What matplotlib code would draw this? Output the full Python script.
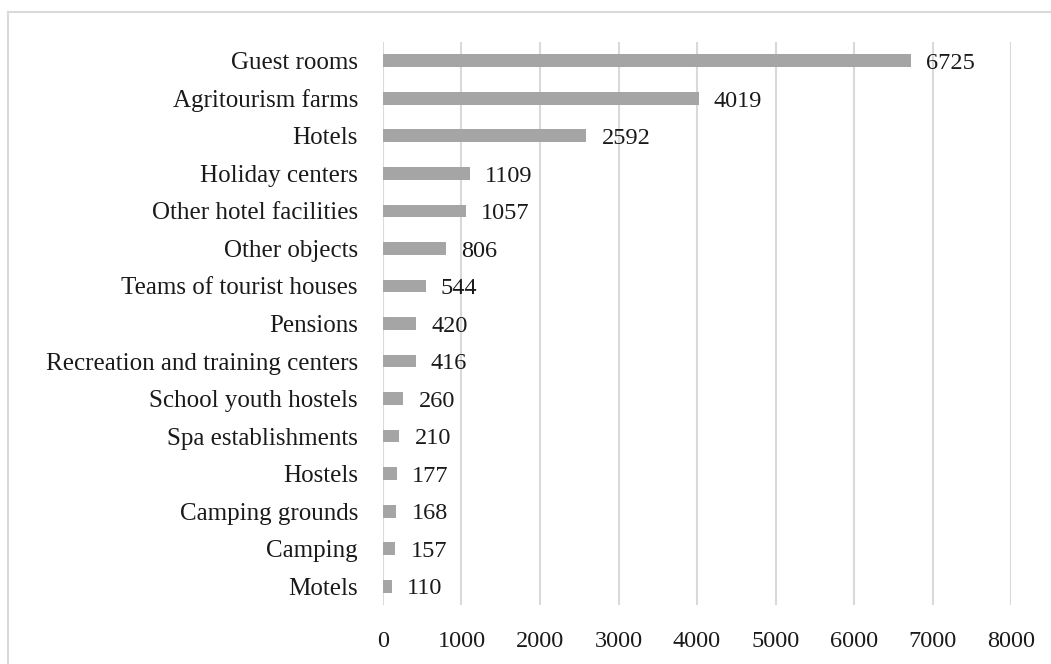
import matplotlib.pyplot as plt
from matplotlib.lines import Line2D

categories = ["Guest rooms", "Agritourism farms", "Hotels", "Holiday centers",
              "Other hotel facilities", "Other objects", "Teams of tourist houses",
              "Pensions", "Recreation and training centers", "School youth hostels",
              "Spa establishments", "Hostels", "Camping grounds", "Camping", "Motels"]
values = [6725, 4019, 2592, 1109, 1057, 806, 544, 420, 416, 260, 210, 177, 168, 157, 110]
xticks = [0, 1000, 2000, 3000, 4000, 5000, 6000, 7000, 8000]

plt.rcParams['font.family'] = ['Liberation Serif', 'DejaVu Serif']

fig = plt.figure(figsize=(10.51, 6.64), dpi=100)
ax = fig.add_axes([0.3644, 0.0889, 0.962 - 0.3644, 0.9367 - 0.0889])

ypos = list(range(len(categories)))
ax.barh(ypos, values, height=0.34, color="#a5a5a5", zorder=2)
for y, v in zip(ypos, values):
    ax.annotate(str(v), (v, y), xytext=(11, -2), textcoords="offset points",
                ha="left", va="center", fontsize=17.5, color="#1a1a1a")

ax.set_ylim(len(categories) - 0.5, -0.5)
ax.set_xlim(0, 8000)
ax.set_yticks(ypos)
ax.set_yticklabels(categories, fontsize=18, color="#1a1a1a")
ax.set_xticks(xticks)
ax.set_xticklabels([str(t) for t in xticks], fontsize=17.5, color="#1a1a1a")
ax.tick_params(axis="y", length=0, pad=18)
ax.tick_params(axis="x", length=0, pad=19)
ax.xaxis.grid(True, color="#d9d9d9", linewidth=1.5, zorder=0)
for s in ax.spines.values():
    s.set_visible(False)

# outer frame (top and left edges visible)
fig.add_artist(Line2D([8 / 1051, 8 / 1051], [0, 1 - 12 / 664], color="#d9d9d9", lw=1.5))
fig.add_artist(Line2D([8 / 1051, 1], [1 - 12 / 664, 1 - 12 / 664], color="#d9d9d9", lw=1.5))

fig.savefig("out.png", dpi=100)
